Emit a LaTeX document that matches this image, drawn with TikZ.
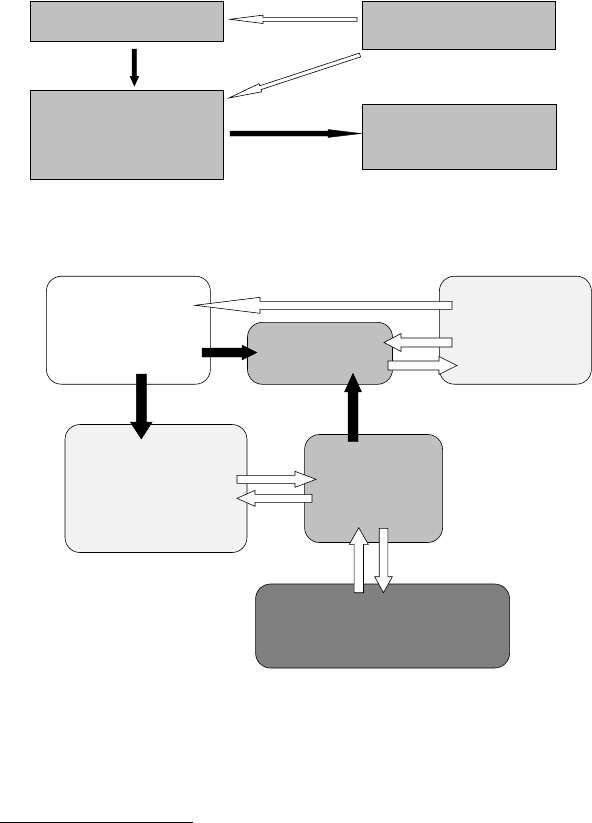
\documentclass[tikz,border=0pt]{standalone}
\usepackage{tikz}
\usetikzlibrary{calc,positioning}
\definecolor{boxsilver}{HTML}{C0C0C0}
\definecolor{boxpale}{HTML}{F2F2F2}
\definecolor{boxdark}{HTML}{808080}
\tikzset{
  flat/.style    ={draw, line width=0.8pt, fill=boxsilver, inner sep=0pt},
  soft/.style    ={draw, line width=0.6pt, rounded corners=15pt, inner sep=0pt},
  openarr/.style ={draw, line width=0.6pt, fill=white},
  fullarr/.style ={draw, line width=0.4pt, fill=black},
}
% block arrow: [style]{tail}{tip}{shaft half width}{head half width}{head length}
\newcommand{\blockarr}[6][]{%
  \coordinate (ba-base) at ($(#3)!#6!(#2)$);
  \path[#1] ($(#2)!#4!90:(#3)$) -- ($(ba-base)!#4!90:(#3)$) -- ($(ba-base)!#5!90:(#3)$) -- (#3)
    -- ($(ba-base)!#5!-90:(#3)$) -- ($(ba-base)!#4!-90:(#3)$) -- ($(#2)!#4!-90:(#3)$) -- cycle;
}

\begin{document}
\begin{tikzpicture}[x=1pt, y=-1pt]
  \useasboundingbox (0,0) rectangle (592,823);

  % upper scheme
  \node[flat, minimum width=193pt, minimum height=40pt] (src) at (126.7,21) {};
  \node[flat, minimum width=193pt, minimum height=89pt, below=48.7pt of src] (proc) {};
  \node[flat, minimum width=193pt, minimum height=48pt] (ctl) at (459,25) {};
  \node[flat, minimum width=194pt, minimum height=65pt, below=55pt of ctl] (out) {};

  \coordinate (ctl-w)  at (357,19.3);   \coordinate (src-e)  at (230,19.3);
  \coordinate (src-s)  at (134.4,49);   \coordinate (proc-n) at (134.4,86);
  \coordinate (ctl-sw) at (360,55);     \coordinate (proc-ne) at (229,98);
  \coordinate (proc-e) at (230,133.5);  \coordinate (out-w)  at (361,133.5);

  \blockarr[openarr]{ctl-w}{src-e}{2pt}{4.2pt}{33pt}
  \blockarr[fullarr]{src-s}{proc-n}{2.3pt}{4.4pt}{9.7pt}
  \blockarr[openarr]{ctl-sw}{proc-ne}{2pt}{4.3pt}{33pt}
  \blockarr[fullarr]{proc-e}{out-w}{2.5pt}{4pt}{33pt}

  % lower scheme
  \node[soft, fill=white, minimum width=164pt, minimum height=108pt] (plan) at (128.4,330.2) {};
  \node[soft, fill=boxpale, minimum width=152pt, minimum height=108pt, right=228.4pt of plan] (peer) {};
  \node[soft, fill=boxsilver, minimum width=145pt, minimum height=62pt] (core) at (320,353.3) {};
  \node[soft, fill=boxpale, minimum width=182pt, minimum height=128pt] (store) at (156,488.5) {};
  \node[soft, fill=boxsilver, minimum width=138pt, minimum height=108pt, right=57pt of store] (hub) {};
  \node[soft, fill=boxdark, minimum width=254pt, minimum height=84pt] (base) at (382.6,626) {};

  \coordinate (peer-a)  at (452,305.3);  \coordinate (plan-a)  at (195,305.3);
  \coordinate (plan-b)  at (202,352.5);  \coordinate (core-b)  at (257,352.5);
  \coordinate (peer-c)  at (452,342.5);  \coordinate (core-c)  at (384,342.5);
  \coordinate (core-d)  at (388,365.5);  \coordinate (peer-d)  at (457,365.5);
  \coordinate (plan-s)  at (141.3,374);  \coordinate (store-n) at (141.3,439);
  \coordinate (hub-n)   at (353,441.7);  \coordinate (core-s)  at (353,373.3);
  \coordinate (store-a) at (237,479.3);  \coordinate (hub-a)   at (316,479.3);
  \coordinate (hub-b)   at (312,498.3);  \coordinate (store-b) at (237,498.3);
  \coordinate (base-a)  at (358.8,592.7); \coordinate (hub-c)  at (358.8,527.7);
  \coordinate (hub-d)   at (383.5,528.3); \coordinate (base-d) at (383.5,592.7);

  \blockarr[openarr]{peer-a}{plan-a}{4pt}{8pt}{65pt}
  \blockarr[fullarr]{plan-b}{core-b}{4.5pt}{7.5pt}{15pt}
  \blockarr[openarr]{peer-c}{core-c}{4.5pt}{9pt}{17pt}
  \blockarr[openarr]{core-d}{peer-d}{4.5pt}{9pt}{18pt}
  \blockarr[fullarr]{plan-s}{store-n}{5pt}{11pt}{17pt}
  \blockarr[fullarr]{hub-n}{core-s}{5pt}{8.5pt}{18.5pt}
  \blockarr[openarr]{store-a}{hub-a}{4pt}{8pt}{21pt}
  \blockarr[openarr]{hub-b}{store-b}{4pt}{8pt}{18pt}
  \blockarr[openarr]{base-a}{hub-c}{4.7pt}{9.5pt}{16.6pt}
  \blockarr[openarr]{hub-d}{base-d}{4.3pt}{8.8pt}{16pt}

  % footnote rule
  \draw[line width=1pt] (0,822.3) -- (193,822.3);
\end{tikzpicture}
\end{document}
